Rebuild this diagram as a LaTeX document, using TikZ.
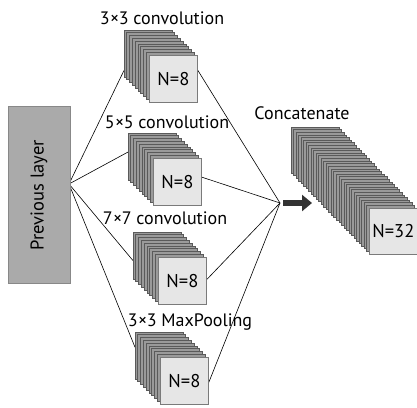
\documentclass[tikz,border=0pt]{standalone}
\usepackage{fontspec}
\setmainfont{PT Sans}
\usetikzlibrary{calc,arrows.meta,backgrounds}
\definecolor{platefill}{HTML}{9A9A9A}
\definecolor{platedraw}{HTML}{5A5A5A}
\definecolor{frontfill}{HTML}{E6E6E6}
\definecolor{frontdraw}{HTML}{7A7A7A}
\definecolor{prevfill}{HTML}{AAAAAA}
\definecolor{prevdraw}{HTML}{888888}
\definecolor{arrowc}{HTML}{333333}
\newcommand{\platestack}[9]{% #1 name, #2 x, #3 y, #4 n, #5 dx, #6 dy, #7 text, #8 w, #9 h
  \node[plate,minimum width=#8pt,minimum height=#9pt,anchor=north west,inner sep=0pt] (#1b) at (#2,#3) {};
  \pgfmathtruncatemacro{\lastp}{#4-2}
  \foreach \i in {1,...,\lastp} \draw[plate] (#2+\i*#5,#3+\i*#6) rectangle ++(#8,#9);
  \node[front,minimum width=#8pt,minimum height=#9pt] (#1) at (#2+#4*#5-#5,#3+#4*#6-#6) {#7};
}
\begin{document}
\begin{tikzpicture}[x=1pt,y=-1pt,
  plate/.style={draw=platedraw,fill=platefill,line width=0.6pt},
  front/.style={draw=frontdraw,fill=frontfill,line width=0.8pt,inner sep=0pt,anchor=north west,font=\fontsize{18.5}{18.5}\selectfont},
  lbl/.style={font=\fontsize{18}{18}\selectfont,inner sep=0pt},
  conn/.style={draw=black,line width=0.6pt},
  prevbox/.style={draw=prevdraw,fill=prevfill,line width=0.8pt,rotate=90,minimum width=177pt,minimum height=62pt,inner sep=0pt,font=\fontsize{18.5}{18.5}\selectfont}]
\useasboundingbox (0,0) rectangle (417,407);

\node[prevbox] (prev) at (39,195) {Previous layer};
\coordinate (src) at (69,184);
\coordinate (hub) at (280,203);

\platestack{s1}{124}{30}{10}{2.78}{2.78}{N=8}{48}{47}
\platestack{s2}{128}{133}{10}{2.78}{2.78}{N=8}{48}{47}
\platestack{s3}{133}{232}{10}{2.78}{2.78}{N=8}{48}{47}
\platestack{s4}{135}{332}{10}{2.78}{2.78}{N=8}{48}{47}
\platestack{cc}{291}{127}{32}{2.516}{2.613}{N=32}{48}{46}

\node[lbl] (l1) at (162,18) {3\kern0.5pt×\kern-0.5pt3 convolution};
\node[lbl] (l2) at (167,122) {5\kern0.5pt×\kern-0.5pt5 convolution};
\node[lbl] (l3) at (165,218) {7\kern0.5pt×\kern-0.5pt7 convolution};
\node[lbl] (l4) at (190,322) {3\kern0.5pt×\kern-0.5pt3 MaxPooling};
\node[lbl] (l5) at (302,113) {Concatenate};

\begin{scope}[on background layer]
\draw[conn] (src) -- ($(s1b.north west)!0.85!(s1b.south west)$);
\draw[conn] (src) -- ($(s2b.north west)!0.4!(s2b.south west)$);
\draw[conn] (src) -- ($(s3b.north west)!0.6!(s3b.south west)$);
\draw[conn] (src) -- ($(s4b.north west)!0.32!(s4b.south west)$);
\draw[conn] ($(s1.north east)!0.32!(s1.south east)$) -- (hub);
\draw[conn] ($(s2.north east)!0.4!(s2.south east)$) -- (hub);
\draw[conn] ($(s3.north east)!0.47!(s3.south east)$) -- (hub);
\draw[conn] ($(s4.north east)!0.53!(s4.south east)$) -- (hub);
\end{scope}

\coordinate (atail) at (283,203);
\coordinate (atip) at (312,203);
\draw[arrowc,line width=6.5pt,-{Triangle[length=10pt,width=16pt]}] (atail) -- (atip);
\end{tikzpicture}
\end{document}
